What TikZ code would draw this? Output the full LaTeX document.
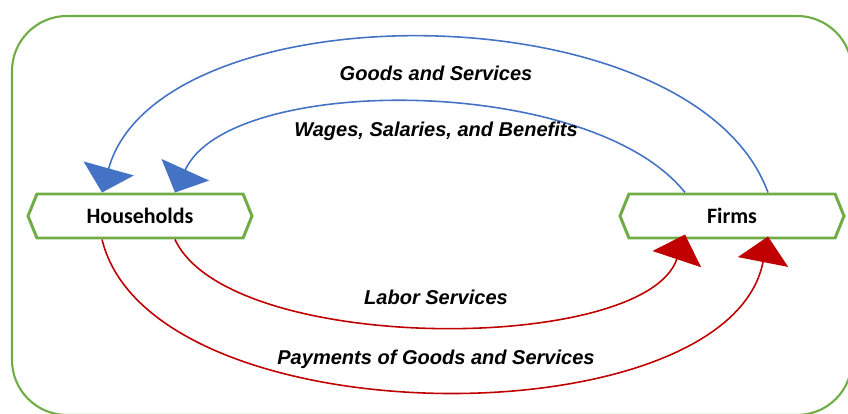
\documentclass[tikz,border=0pt]{standalone}
\usepackage{fontspec}
\setmainfont{Liberation Sans}
\newfontfamily\boxfont{Carlito}
\usetikzlibrary{arrows.meta,shapes.symbols}

\definecolor{ecogreen}{HTML}{70AD47}
\definecolor{ecoblue}{HTML}{4472C4}
\definecolor{ecored}{HTML}{C00000}

\begin{document}
\begin{tikzpicture}[x=0.02cm, y=0.02cm,
    sector/.style={signal, signal to=west and east, signal pointer angle=136,
        draw=ecogreen, line width=1.7pt, fill=white,
        minimum width=4.48cm, minimum height=0.88cm, inner sep=0pt,
        font=\boxfont\bfseries\fontsize{12.5}{14}\selectfont},
    money/.style={draw=ecoblue, line width=0.9pt,
        -{Triangle[length=0.5cm, width=1.04cm, fill=ecoblue]}},
    goods/.style={draw=ecored, line width=0.9pt,
        -{Triangle[length=0.52cm, width=1.02cm, fill=ecored]}},
    flowlabel/.style={font=\bfseries\itshape\fontsize{11.4}{13}\selectfont}]
    \useasboundingbox (0,0) rectangle (848,413);

    % outer frame, runs off the page on the right and at the bottom
    \draw[ecogreen, line width=1.2pt, rounded corners=1.1cm] (12,-2) rectangle (852,397);

    \node[sector] (hh) at (140,197) {Households};
    \node[sector] (firms) at (732,197) {Firms};

    % blue loops: firms back to households
    \draw[money] ([xshift=0.72cm]firms.north) .. controls +(-75,205) and +(57,205) .. ([xshift=-0.76cm]hh.north);
    \draw[money] ([xshift=-0.94cm]firms.north) .. controls +(-95,119) and +(54,119) .. ([xshift=0.7cm]hh.north);

    % red loops: households to firms, tips run a little into the box
    \draw[goods] ([xshift=0.7cm]hh.south) .. controls +(54,-116) and +(-40,-120) .. ([xshift=-0.94cm, yshift=0.1cm]firms.south);
    \draw[goods] ([xshift=-0.76cm]hh.south) .. controls +(49,-201) and +(-40,-205) .. ([xshift=0.72cm, yshift=0.06cm]firms.south);

    \node[flowlabel] (gs) at (436,340) {Goods and Services};
    \node[flowlabel] (wsb) at (436,282) {Wages, Salaries, and Benefits};
    \node[flowlabel] (ls) at (436,116) {Labor Services};
    \node[flowlabel] (pgs) at (436,54) {Payments of Goods and Services};
\end{tikzpicture}
\end{document}
